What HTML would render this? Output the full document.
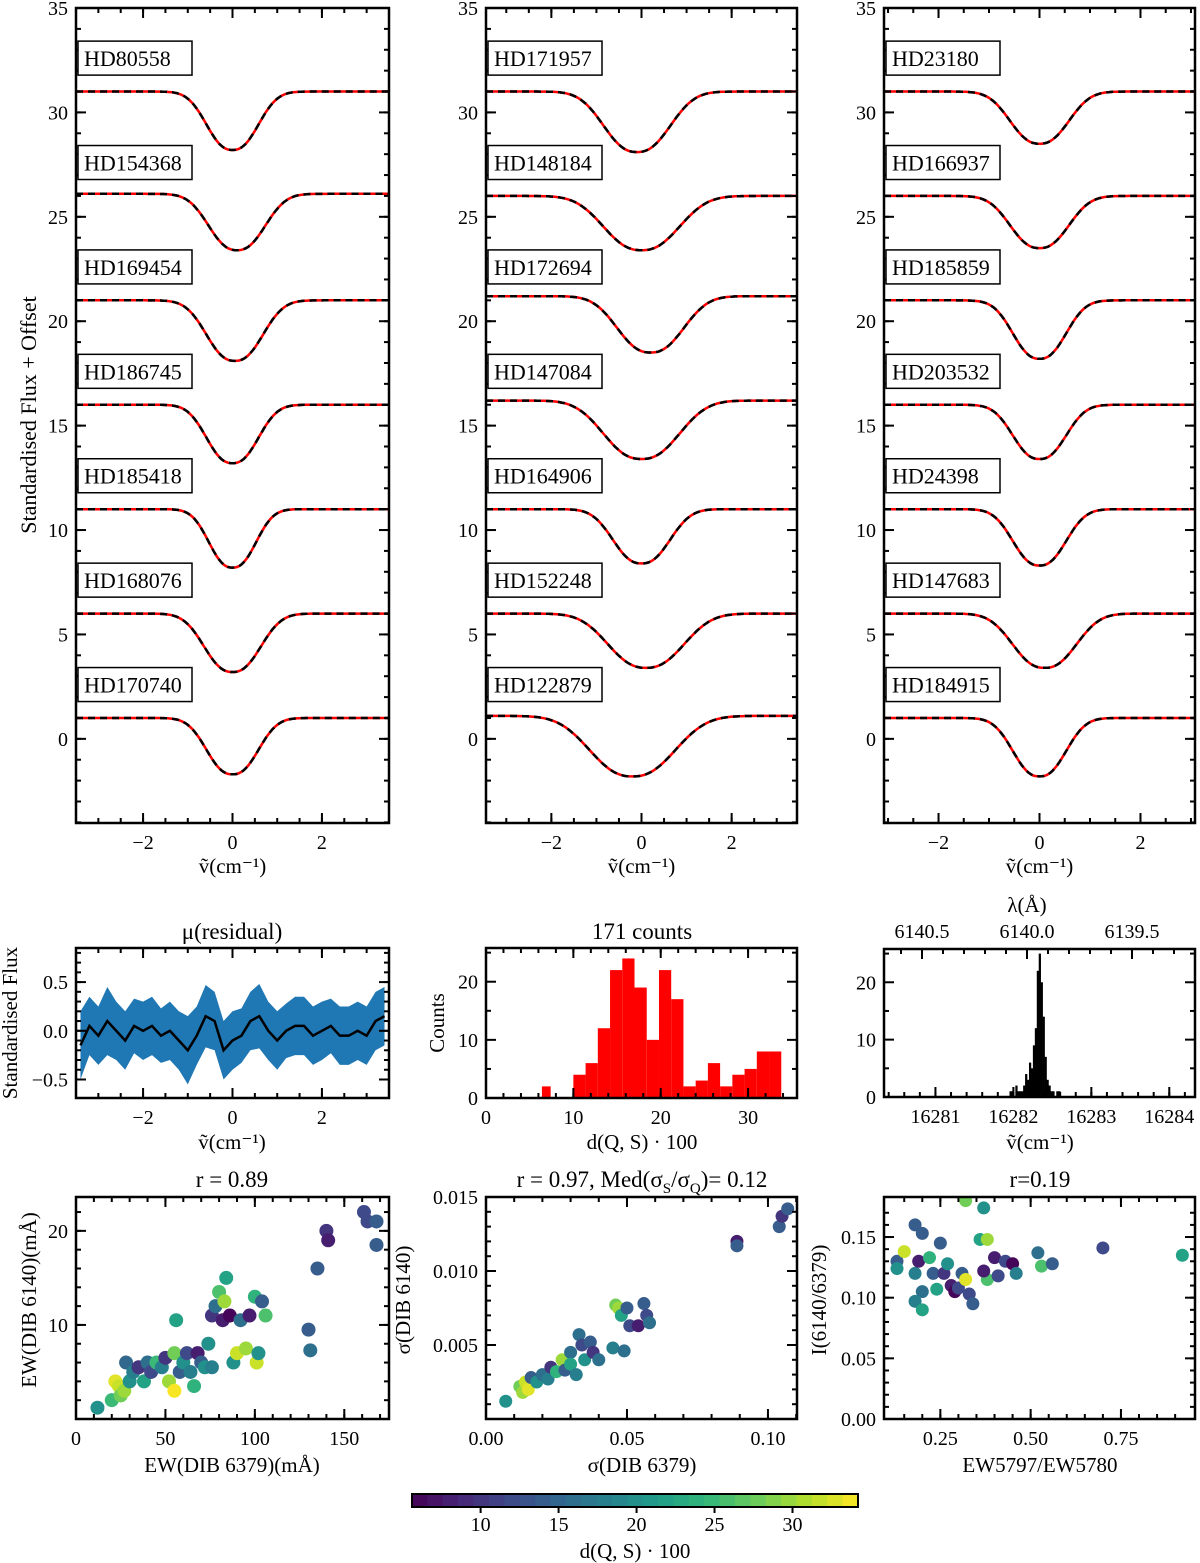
<!DOCTYPE html>
<html><head><meta charset="utf-8"><style>
body{margin:0;background:#fff}
svg{display:block;font-family:"Liberation Serif",serif}
text{fill:#000}
</style></head><body>
<svg id="fig" width="1200" height="1563" viewBox="0 0 1200 1563" xmlns="http://www.w3.org/2000/svg"></svg>
<script>
// ---- data ----
const leftStars=["HD80558","HD154368","HD169454","HD186745","HD185418","HD168076","HD170740"];
const leftBase=[31,26.1,21,16,11,6,1];
const leftDepth=[2.8,2.7,2.9,2.8,2.8,2.8,2.7];
const leftCenter=[0,0.1,0.05,0,0,0,0];
const leftWidth=[0.55,0.6,0.6,0.55,0.5,0.6,0.55];
const midStars=["HD171957","HD148184","HD172694","HD147084","HD164906","HD152248","HD122879"];
const midBase=[31,26,21.2,16.2,11,6,1.1];
const midDepth=[2.9,2.6,2.7,2.8,2.6,2.6,2.9];
const midCenter=[-0.1,0,0.2,0,0,0.1,-0.2];
const midWidth=[0.7,0.8,0.7,0.8,0.6,0.8,0.9];
const rightStars=["HD23180","HD166937","HD185859","HD203532","HD24398","HD147683","HD184915"];
const rightBase=[31,26,21,16,11,6,1];
const rightDepth=[2.5,2.5,2.8,2.6,2.7,2.6,2.8];
const rightCenter=[0,0,0,0,0,0.1,0];
const rightWidth=[0.55,0.55,0.5,0.5,0.5,0.6,0.5];
const resX=[-3.4,-3.2,-3,-2.8,-2.6,-2.4,-2.2,-2,-1.8,-1.6,-1.4,-1.2,-1,-0.8,-0.6,-0.4,-0.2,0,0.2,0.4,0.6,0.8,1,1.2,1.4,1.6,1.8,2,2.2,2.4,2.6,2.8,3,3.2,3.4];
const resMean=[-0.15,0.05,-0.05,0.1,0.0,-0.1,0.05,0.0,0.05,-0.05,0.0,-0.1,-0.2,-0.05,0.15,0.1,-0.2,-0.1,-0.05,0.1,0.15,0.0,-0.1,0.0,0.05,0.05,-0.05,0.0,0.05,-0.05,-0.05,0.0,-0.05,0.1,0.15];
const resHalf=[0.35,0.3,0.3,0.35,0.3,0.3,0.28,0.3,0.3,0.28,0.3,0.3,0.35,0.3,0.32,0.3,0.3,0.3,0.28,0.3,0.33,0.3,0.3,0.28,0.3,0.3,0.3,0.3,0.28,0.3,0.3,0.3,0.3,0.3,0.3];
const histEdges=[6.4,7.4,10,11.4,12.8,14.2,15.6,17,18.4,19.8,21.2,22.6,24,25.4,26.8,28.2,29.6,31,32.4,33.8];
const histCounts=[2,0,4,6,12,22,24,19,10,22,17,2,3,6,2,4,5,8,8];
const lamStart=16281.95;
const lamBin=0.025;
const lamCounts=[1,1,0,2,1,1,1,2,4,3,6,5,9,12,22,25,20,14,7,3,2,1,1,0,1,1];
const lamTicks=["6140.5","6140.0","6139.5"];
const sc1=[[12,1.2,20],[20,2,25],[22,4,33],[24,3.5,32],[25,2.5,28],[27,3,30],[28,6,15],[30,4,20],[32,5,18],[35,5.5,10],[38,4,22],[40,6,16],[42,5,12],[45,6,25],[48,5.5,18],[50,6.5,10],[52,4,30],[55,3,34],[55,7,28],[56,10.5,22],[58,5,14],[60,6,20],[62,7,12],[64,5,18],[66,3.5,24],[68,7,8],[70,6,14],[72,5.5,20],[74,8,20],[76,11,10],[76,5.5,18],[78,12,16],[80,13.5,26],[82,10.5,8],[84,15,22],[83,12.5,30],[86,11,6],[88,6,20],[90,7,32],[92,10.5,16],[95,7.5,30],[97,11,8],[100,13,24],[101,6,32],[102,7,20],[104,12.5,14],[106,11,26],[130,9.5,14],[131,7.3,16],[135,16,14],[140,20,10],[141,19,8],[161,22,12],[163,21,12],[168,21,14],[168,18.5,14]];
const sc2=[[0.007,0.0012,20],[0.012,0.0022,28],[0.013,0.0018,30],[0.014,0.0025,32],[0.015,0.002,33],[0.016,0.0028,14],[0.018,0.0025,20],[0.02,0.003,16],[0.022,0.0027,18],[0.023,0.0035,10],[0.025,0.0032,24],[0.027,0.004,30],[0.028,0.0033,14],[0.03,0.0045,16],[0.03,0.0037,22],[0.032,0.003,18],[0.033,0.0057,16],[0.034,0.005,12],[0.035,0.004,20],[0.037,0.0052,14],[0.038,0.0045,10],[0.04,0.004,16],[0.045,0.0048,18],[0.046,0.0077,28],[0.047,0.0075,30],[0.048,0.007,22],[0.049,0.0046,16],[0.05,0.0075,14],[0.051,0.0063,12],[0.054,0.0063,8],[0.056,0.0078,14],[0.057,0.007,12],[0.058,0.0065,16],[0.089,0.012,8],[0.089,0.0117,14],[0.104,0.013,14],[0.105,0.0137,10],[0.107,0.0142,14]];
const sc3=[[0.13,0.13,14],[0.13,0.124,20],[0.15,0.138,32],[0.18,0.16,14],[0.18,0.12,18],[0.19,0.13,8],[0.2,0.153,14],[0.2,0.105,16],[0.18,0.097,18],[0.2,0.09,22],[0.22,0.133,24],[0.23,0.12,14],[0.24,0.107,22],[0.25,0.145,14],[0.26,0.12,10],[0.27,0.128,20],[0.28,0.11,8],[0.29,0.105,6],[0.3,0.108,12],[0.31,0.12,14],[0.32,0.115,33],[0.33,0.103,12],[0.34,0.095,14],[0.32,0.18,28],[0.36,0.148,22],[0.37,0.174,20],[0.38,0.148,30],[0.38,0.115,26],[0.37,0.122,8],[0.4,0.133,8],[0.41,0.118,12],[0.43,0.13,12],[0.45,0.128,6],[0.46,0.12,18],[0.52,0.137,16],[0.53,0.126,26],[0.56,0.128,14],[0.7,0.141,12],[0.92,0.135,22]];

// ---- helpers ----
const NS="http://www.w3.org/2000/svg";
const svg=document.getElementById("fig");
function mk(tag,attrs,parent){const e=document.createElementNS(NS,tag);for(const k in attrs)e.setAttribute(k,attrs[k]);(parent||svg).appendChild(e);return e;}
function txt(s,x,y,size,anchor,parent){const t=mk("text",{x:x,y:y,"font-size":size,"text-anchor":anchor||"middle"},parent);t.textContent=s;return t;}
const viridis=[[68,1,84],[72,40,120],[62,74,137],[49,104,142],[38,130,142],[31,158,137],[53,183,121],[109,205,89],[180,222,44],[253,231,37]];
function vcol(d){let t=(d-5.6)/(34.2-5.6);t=Math.max(0,Math.min(1,t))*9;const i=Math.min(8,Math.floor(t)),f=t-i;const a=viridis[i],b=viridis[i+1];return `rgb(${a.map((v,k)=>Math.round(v+(b[k]-v)*f)).join(",")})`;}
function axes(name,x0,y0,x1,y1,xmin,xmax,ymin,ymax,xt,xmn,yt,ymn,opts){
  opts=opts||{};
  const g=mk("g",{});
  
  
  const sx=v=>x0+(v-xmin)/(xmax-xmin)*(x1-x0);
  const sy=v=>y1-(v-ymin)/(ymax-ymin)*(y1-y0);
  const tk=(xa,ya,xb,yb)=>mk("line",{x1:xa,y1:ya,x2:xb,y2:yb,stroke:"#000","stroke-width":2},g);
  xmn.forEach(v=>{const X=sx(v);if(X<x0||X>x1)return;tk(X,y1,X,y1-5);if(!opts.noTop)tk(X,y0,X,y0+5);});
  ymn.forEach(v=>{const Y=sy(v);if(Y<y0||Y>y1)return;tk(x0,Y,x0+5,Y);tk(x1,Y,x1-5,Y);});
  xt.forEach((v,i)=>{const X=sx(v);tk(X,y1,X,y1-10);if(!opts.noTop)tk(X,y0,X,y0+10);txt(opts.xl?opts.xl[i]:String(v).replace("-","\u2212"),X,y1+26,20,"middle",g);});
  yt.forEach((v,i)=>{const Y=sy(v);tk(x0,Y,x0+10,Y);tk(x1,Y,x1-10,Y);txt(opts.yl?opts.yl[i]:String(v).replace("-","\u2212"),x0-8,Y+7,20,"end",g);});
  mk("rect",{x:x0,y:y0,width:x1-x0,height:y1-y0,fill:"none",stroke:"#000","stroke-width":2.5},g);
  const clipId="c"+name;const cp=mk("clipPath",{id:clipId});mk("rect",{x:x0,y:y0,width:x1-x0,height:y1-y0},cp);
  const plot=mk("g",{"clip-path":`url(#${clipId})`});
  svg.insertBefore(plot,g);
  return {sx,sy,plot,g,tk};
}
function profile(b,d,c,w,x){return b-d*Math.exp(-0.5*Math.pow(Math.abs((x-c)/w),2.4));}
function specPanel(name,x0,x1,xr,stars,base,depth,center,width,xticks){
  const minors=[];for(let v=-3;v<=3.001;v+=0.5)minors.push(v);
  const ymin=[];for(let v=-4;v<=35;v++)ymin.push(v);
  const A=axes(name,x0,8,x1,823,-xr,xr,-4.03,35,xticks,minors,[0,5,10,15,20,25,30,35],ymin);
  stars.forEach((s,i)=>{
    let pr="";
    for(let k=0;k<=140;k++){const x=-xr+2*xr*k/140;const X=A.sx(x),Y=A.sy(profile(base[i],depth[i],center[i],width[i],x));pr+=(k?"L":"M")+X.toFixed(1)+","+Y.toFixed(1);}
    const g=mk("path",{d:pr,stroke:"#aaa","stroke-width":2.5,fill:"none","stroke-dasharray":"8,4"},A.plot);
    
    
    const r=mk("path",{d:pr,stroke:"#f00","stroke-width":2.5,fill:"none"},A.plot);
    
    
    const b=mk("path",{d:pr,stroke:"#000","stroke-width":2.5,fill:"none","stroke-dasharray":"7,5"},A.plot);
    
    
    const Y=A.sy(32.6-5*i);
    const bx=mk("rect",{x:x0+2,y:Y-17,width:114,height:34,fill:"#fff",stroke:"#000","stroke-width":1.5});
    
    
    const t=txt(s,x0+8,Y+8,22,"start");
    
    
  });
  txt("\u1e7d(cm\u207b\u00b9)",(x0+x1)/2,873,21);
}
specPanel("spectra-left",76,389,3.5,leftStars,leftBase,leftDepth,leftCenter,leftWidth,[-2,0,2]);
specPanel("spectra-middle",486,797,3.45,midStars,midBase,midDepth,midCenter,midWidth,[-2,0,2]);
specPanel("spectra-right",884,1195,3.08,rightStars,rightBase,rightDepth,rightCenter,rightWidth,[-2,0,2]);
const yl=txt("Standardised Flux + Offset",0,0,22);yl.setAttribute("transform","translate(36,415) rotate(-90)");


// residual panel
{
 const mn=[];for(let v=-3;v<=3.001;v+=0.5)mn.push(v);
 const A=axes("residual-panel",76,948,389,1098,-3.5,3.5,-0.69,0.85,[-2,0,2],mn,[-0.5,0,0.5],[-0.5,-0.4,-0.3,-0.2,-0.1,0,0.1,0.2,0.3,0.4,0.5,0.6,0.7,0.8],{yl:["\u22120.5","0.0","0.5"]});
 let up="",dn="",ln="";
 resX.forEach((x,i)=>{up+=(i?"L":"M")+A.sx(x)+","+A.sy(resMean[i]+resHalf[i]);ln+=(i?"L":"M")+A.sx(x)+","+A.sy(resMean[i]);});
 for(let i=resX.length-1;i>=0;i--)dn+="L"+A.sx(resX[i])+","+A.sy(resMean[i]-resHalf[i]);
 const b=mk("path",{d:up+dn+"Z",fill:"#1f77b4"},A.plot);
 const l=mk("path",{d:ln,stroke:"#000","stroke-width":2.5,fill:"none"},A.plot);
 txt("\u03bc(residual)",232,939,23);txt("\u1e7d(cm\u207b\u00b9)",232,1149,21);
 const t=txt("Standardised Flux",0,0,21);t.setAttribute("transform","translate(17,1023) rotate(-90)");
}
// histogram distance
{
 const mn=[];for(let v=0;v<=35;v+=2)mn.push(v);
 const A=axes("distance-histogram",486,948,797,1098,0,35.6,0,25.8,[0,10,20,30],mn,[0,10,20],[5,15,25]);
 histCounts.forEach((c,i)=>{if(!c)return;const r=mk("rect",{x:A.sx(histEdges[i]),y:A.sy(c),width:A.sx(histEdges[i+1])-A.sx(histEdges[i]),height:A.sy(0)-A.sy(c),fill:"#f00"},A.plot);
  });
 txt("171 counts",642,939,23);txt("d(Q, S) \u00b7 100",642,1149,21);
 const t=txt("Counts",0,0,21);t.setAttribute("transform","translate(444,1023) rotate(-90)");
}
// wavenumber histogram
{
 const mn=[];for(let v=16280.4;v<=16284.3;v+=0.2)mn.push(+v.toFixed(1));
 const A=axes("wavenumber-histogram",884,949,1195,1097,16280.34,16284.33,0,25.8,[16281,16282,16283,16284],mn,[0,10,20],[5,15,25],{noTop:true});
 lamCounts.forEach((c,i)=>{if(!c)return;const xa=lamStart+i*lamBin;const r=mk("rect",{x:A.sx(xa),y:A.sy(c),width:A.sx(xa+lamBin)-A.sx(xa)+0.3,height:A.sy(0)-A.sy(c),fill:"#000"},A.plot);
  });
 // top wavelength axis: 6140.5 at x=922, 210 px per Angstrom
 const lx=l=>922+(6140.5-l)*210;
 for(let k=0;k<=14;k++){const l=6140.6-k*0.1;const X=lx(l);if(X<885||X>1194)continue;const major=Math.abs((l*2)-Math.round(l*2))<1e-6;A.tk(X,949,X,949+(major?10:5));}
 lamTicks.forEach(s=>txt(s,lx(parseFloat(s)),938,20));
 txt("\u03bb(\u00c5)",1027,912,21);
 txt("\u1e7d(cm\u207b\u00b9)",1040,1149,21);
}
// scatter panels
function scatter(name,A,data,r){data.forEach(p=>{const c=mk("circle",{cx:A.sx(p[0]),cy:A.sy(p[1]),r:r,fill:vcol(p[2])},A.plot);
  });}
{
 const mn=[];for(let v=0;v<=175;v+=10)mn.push(v);const ym=[];for(let v=0;v<=23;v+=2)ym.push(v);
 const A=axes("scatter-ew",76,1197,389,1419,0,175,0,23.6,[0,50,100,150],mn,[10,20],ym);
 scatter("ew",A,sc1,7);
 txt("r =  0.89",232,1187,23);txt("EW(DIB 6379)(m\u00c5)",232,1472,21);
 const t=txt("EW(DIB 6140)(m\u00c5)",0,0,21);t.setAttribute("transform","translate(36,1300) rotate(-90)");
}
{
 const mn=[];for(let v=0;v<=0.11;v+=0.01)mn.push(v);const ym=[];for(let v=0;v<=0.015;v+=0.001)ym.push(v);
 const A=axes("scatter-sigma",486,1197,797,1419,0,0.1103,0,0.015,[0,0.05,0.1],mn,[0.005,0.01,0.015],ym,{xl:["0.00","0.05","0.10"],yl:["0.005","0.010","0.015"]});
 scatter("sigma",A,sc2,6.5);
 const tt=mk("text",{x:642,y:1187,"font-size":23,"text-anchor":"middle"});
 tt.innerHTML='r =  0.97, Med(\u03c3<tspan font-size="15" dy="6">S</tspan><tspan dy="-6">/\u03c3</tspan><tspan font-size="15" dy="6">Q</tspan><tspan dy="-6">)= 0.12</tspan>';
 txt("\u03c3(DIB 6379)",642,1472,21);
 const t=txt("\u03c3(DIB 6140)",0,0,21);t.setAttribute("transform","translate(410,1300) rotate(-90)");
}
{
 const mn=[];for(let v=0.15;v<=0.95;v+=0.05)mn.push(v);const ym=[];for(let v=0;v<=0.18;v+=0.01)ym.push(v);
 const A=axes("scatter-ratio",884,1197,1195,1419,0.094,0.955,0,0.183,[0.25,0.5,0.75],mn,[0,0.05,0.1,0.15],ym,{xl:["0.25","0.50","0.75"],yl:["0.00","0.05","0.10","0.15"]});
 scatter("ratio",A,sc3,6.5);
 txt("r=0.19",1040,1187,23);txt("EW5797/EW5780",1040,1472,21);
 const t=txt("I(6140/6379)",0,0,21);t.setAttribute("transform","translate(826,1300) rotate(-90)");
}
// colorbar
{
 const g=mk("g",{});
 const n=29;for(let i=0;i<n;i++){const d=5.6+(34.2-5.6)*(i+0.5)/n;mk("rect",{x:412+446*i/n,y:1494,width:446/n+0.6,height:13,fill:vcol(d)},g);}
 mk("rect",{x:412,y:1494,width:446,height:13,fill:"none",stroke:"#000","stroke-width":2},g);
 [10,15,20,25,30].forEach(v=>{const X=412+(v-5.6)/(34.2-5.6)*446;mk("line",{x1:X,y1:1507,x2:X,y2:1513,stroke:"#000","stroke-width":2},g);txt(String(v),X,1531,20,"middle",g);});
 txt("d(Q, S) \u00b7 100",635,1558,21,"middle",g);
}
</script>
</body></html>
